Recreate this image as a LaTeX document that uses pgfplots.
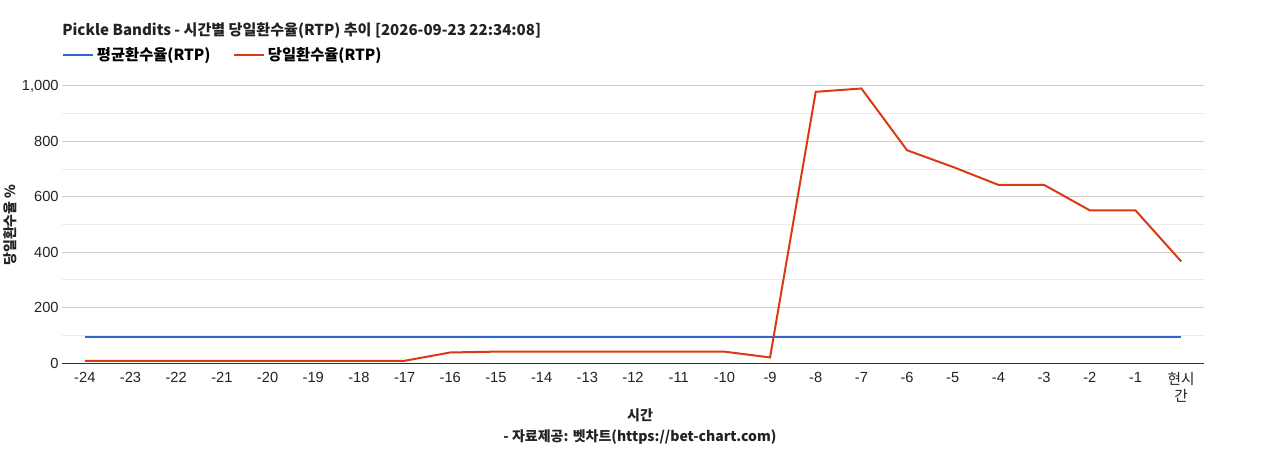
\documentclass[border=0pt]{standalone}
\usepackage{pgfplots}
\pgfplotsset{compat=1.18}
\usepackage{fontspec}
\setmainfont{Noto Sans CJK KR}
\newfontfamily\numfont{Liberation Sans}

\definecolor{avgblue}{HTML}{3366CC}
\definecolor{dayred}{HTML}{DC3912}
\definecolor{txt}{HTML}{222222}

\begin{document}
\begin{tikzpicture}[x=0.75pt,y=0.75pt]
\useasboundingbox (0,0) rectangle (1268,450);
\begin{axis}[
  scale only axis,
  width=856.5pt, height=207.75pt,
  at={(46.5pt,65.25pt)}, anchor=south west,
  xmin=-0.5, xmax=24.5,
  ymin=0, ymax=1000,
  clip=false,
  axis line style={draw=none},
  xtick={0,...,24},
  xticklabels={-24,-23,-22,-21,-20,-19,-18,-17,-16,-15,-14,-13,-12,-11,-10,-9,-8,-7,-6,-5,-4,-3,-2,-1,{\rmfamily\fontsize{11}{13}\selectfont 현시\\\rmfamily\fontsize{11}{13}\selectfont 간}},
  x tick label style={align=center, anchor=north, yshift=-3.5pt},
  ytick={0,200,...,1000},
  minor y tick num=1,
  major tick length=0pt, minor tick length=0pt,
  ymajorgrids, yminorgrids,
  major grid style={draw=black!20, line width=0.75pt},
  minor grid style={draw=black!8, line width=0.75pt},
  tick label style={font=\numfont\fontsize{11}{13}\selectfont, text=txt},
  /pgf/number format/assume math mode=true,
  /pgf/number format/1000 sep={,},
  y tick label style={xshift=1pt},
  legend columns=2,
  legend style={at={(0,1)}, anchor=west, xshift=0pt, yshift=23.25pt,
    draw=none, fill=none, inner sep=0pt,
    font=\bfseries\fontsize{11.5}{12}\selectfont,
    /tikz/every even column/.append style={column sep=15pt}},
  legend image code/.code={\draw[#1] (0pt,0pt) -- (22.5pt,0pt);},
]
\addplot[avgblue, line width=1.5pt] coordinates {
  (0,95) (1,95) (2,95) (3,95) (4,95) (5,95) (6,95) (7,95) (8,95) (9,95)
  (10,95) (11,95) (12,95) (13,95) (14,95) (15,95) (16,95) (17,95) (18,95)
  (19,95) (20,95) (21,95) (22,95) (23,95) (24,95)};
\addlegendentry{평균환수율(RTP)}
\addplot[dayred, line width=1.5pt] coordinates {
  (0,8) (1,8) (2,8) (3,8) (4,8) (5,8) (6,8) (7,8) (8,38) (9,41)
  (10,41) (11,41) (12,41) (13,41) (14,41) (15,20) (16,979) (17,991) (18,768)
  (19,708) (20,643) (21,643) (22,551) (23,551) (24,367)};
\addlegendentry{당일환수율(RTP)}
\draw[black!80, line width=0.75pt] (axis cs:-0.5,0) -- (axis cs:24.5,0);
\end{axis}
\node[anchor=west, inner sep=0pt, font=\bfseries\fontsize{11.3}{12}\selectfont, text=txt] at (62,419) {Pickle Bandits - 시간별 당일환수율(RTP) 추이 [2026-09-23 22:34:08]};
\node[rotate=90, inner sep=0pt, font=\bfseries\fontsize{10.5}{11}\selectfont, text=txt] at (10,225) {당일환수율 \%};
\node[inner sep=0pt, font=\bfseries\fontsize{10.5}{11}\selectfont, text=txt] at (640,35) {시간};
\node[inner sep=0pt, font=\bfseries\fontsize{10.5}{11}\selectfont, text=txt] at (640,13) {- 자료제공: 벳차트(https://bet-chart.com)};
\end{tikzpicture}
\end{document}
